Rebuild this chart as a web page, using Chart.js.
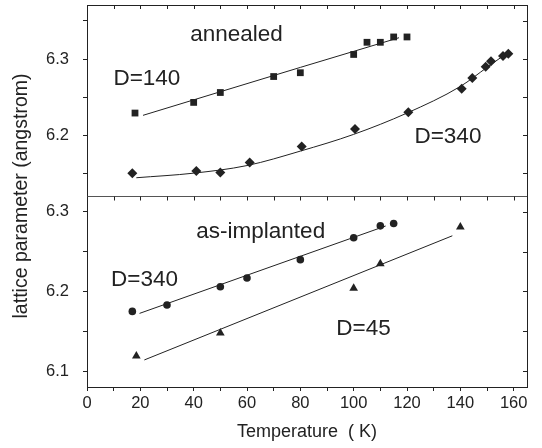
<!DOCTYPE html>
<html><head><meta charset="utf-8">
<script src="https://cdn.jsdelivr.net/npm/chart.js@4/dist/chart.umd.min.js"></script>
<style>html,body{margin:0;padding:0;background:#fff}canvas{display:block}</style>
</head><body>
<canvas id="c" width="542" height="448"></canvas>
<script>
// ---- data ----
const annealedD140Temp   = [18, 40, 50, 70, 80, 100, 105, 110, 115, 120];
const annealedD140Param  = [6.229, 6.243, 6.256, 6.277, 6.282, 6.306, 6.322, 6.322, 6.329, 6.329];
const annealedD140FitT   = [21, 50, 80, 117];
const annealedD140FitP   = [6.226, 6.257, 6.289, 6.328];

const annealedD340Temp   = [17, 41, 50, 61, 80.5, 100.5, 120.5, 140.5, 144.5, 149.5, 151.5, 156, 158];
const annealedD340Param  = [6.150, 6.153, 6.151, 6.164, 6.185, 6.208, 6.230, 6.261, 6.275, 6.290, 6.297, 6.304, 6.307];
const annealedD340FitT   = [18.5, 40, 60, 80, 100, 120, 140, 150, 158];
const annealedD340FitP   = [6.144, 6.150, 6.160, 6.179, 6.201, 6.229, 6.264, 6.289, 6.309];

const implantD340Temp    = [17, 30, 50, 60, 80, 100, 110, 115];
const implantD340Param   = [6.175, 6.183, 6.206, 6.217, 6.240, 6.2675, 6.2825, 6.2855];
const implantD340FitT    = [19.7, 112];
const implantD340FitP    = [6.1725, 6.2823];

const implantD45Temp     = [18.5, 50, 100, 110, 140];
const implantD45Param    = [6.119, 6.148, 6.204, 6.235, 6.281];
const implantD45FitT     = [21.5, 137];
const implantD45FitP     = [6.114, 6.270];

const xTickLabels = ['0', '20', '40', '60', '80', '100', '120', '140', '160'];
const yTickLabels = ['6.1', '6.2', '6.3'];

// ---- styling ----
const FONT = '"Liberation Sans", Arial, Helvetica, sans-serif';
const INK = '#222222';
const xy = (xs, ys) => xs.map((x, i) => ({x: x, y: ys[i]}));

function markers(data, style, r, axis) {
  return {data: data, yAxisID: axis, pointStyle: style, pointRadius: r, pointHoverRadius: r,
    backgroundColor: INK, borderColor: INK, borderWidth: 0, showLine: false};
}
function fit(data, axis, tension) {
  return {data: data, yAxisID: axis, showLine: true, pointRadius: 0, pointHoverRadius: 0,
    borderColor: INK, borderWidth: 1, tension: tension || 0,
    cubicInterpolationMode: tension ? 'monotone' : 'default', fill: false};
}

const annotations = [
  {text: 'annealed',     x: 38.7,  y: 6.3236, axis: 'yTop'},
  {text: 'D=140',        x: 9.9,   y: 6.266,  axis: 'yTop'},
  {text: 'D=340',        x: 122.8, y: 6.1895, axis: 'yTop'},
  {text: 'as-implanted', x: 41,    y: 6.2675, axis: 'yBottom'},
  {text: 'D=340',        x: 9.0,   y: 6.2071, axis: 'yBottom'},
  {text: 'D=45',         x: 93.5,  y: 6.1455, axis: 'yBottom'}
];

const framePlugin = {
  id: 'framePlugin',
  afterDatasetsDraw(chart) {
    const ctx = chart.ctx, a = chart.chartArea;
    const x = chart.scales.x, yt = chart.scales.yTop, yb = chart.scales.yBottom;
    ctx.save();
    ctx.strokeStyle = INK; ctx.lineWidth = 1;
    ctx.strokeRect(Math.round(a.left) + 0.5, Math.round(a.top) + 0.5,
                   Math.round(a.right - a.left), Math.round(a.bottom - a.top));
    const mid = Math.round(yt.bottom) + 0.5;
    ctx.strokeStyle = '#555';
    ctx.beginPath(); ctx.moveTo(a.left, mid); ctx.lineTo(a.right, mid); ctx.stroke();
    ctx.strokeStyle = INK;
    ctx.beginPath();
    const tl = 4;
    x.ticks.forEach(t => {
      const px = Math.round(x.getPixelForValue(t.value)) + 0.5;
      ctx.moveTo(px, a.top); ctx.lineTo(px, a.top + tl);
      ctx.moveTo(px, mid); ctx.lineTo(px, mid + tl);
    });
    [yt, yb].forEach(s => s.ticks.forEach(t => {
      const py = Math.round(s.getPixelForValue(t.value)) + 0.5;
      ctx.moveTo(a.right, py); ctx.lineTo(a.right - tl, py);
    }));
    ctx.stroke();
    ctx.restore();
  },
  afterDraw(chart) {
    const ctx = chart.ctx, a = chart.chartArea, x = chart.scales.x;
    ctx.save();
    ctx.fillStyle = INK;
    ctx.font = '22.5px ' + FONT;
    ctx.textAlign = 'left'; ctx.textBaseline = 'alphabetic';
    annotations.forEach(n => {
      ctx.fillText(n.text, x.getPixelForValue(n.x), chart.scales[n.axis].getPixelForValue(n.y));
    });
    ctx.font = '19.5px ' + FONT;
    ctx.translate(21.5, (a.top + a.bottom) / 2);
    ctx.rotate(-Math.PI / 2);
    ctx.textAlign = 'center'; ctx.textBaseline = 'middle';
    ctx.fillText('lattice parameter (angstrom)', 0, 0);
    ctx.restore();
  }
};

function yLabel(v) {
  const r = Math.round(v * 10);
  const s = (r / 10).toFixed(1);
  return (Math.abs(v * 10 - r) < 1e-6 && yTickLabels.includes(s)) ? s : '';
}
function xLabel(v) {
  const s = String(Math.round(v));
  return (Math.abs(v % 20) < 1e-6 && xTickLabels.includes(s)) ? s : '';
}

const yCommon = {
  type: 'linear', position: 'left', stack: 'panels', stackWeight: 1,
  ticks: {stepSize: 0.05, includeBounds: false, autoSkip: false, color: INK,
          font: {family: FONT, size: 16.5}, padding: 14, callback: yLabel},
  grid: {drawOnChartArea: false, drawTicks: true, tickLength: 4, color: INK, tickColor: INK},
  border: {display: false},
  afterFit(s) { s.width = 87; s.paddingTop = 0; s.paddingBottom = 0; }
};

new Chart(document.getElementById('c'), {
  type: 'scatter',
  data: {
    datasets: [
      markers(xy(annealedD140Temp, annealedD140Param), 'rect', 4.8, 'yTop'),
      fit(xy(annealedD140FitT, annealedD140FitP), 'yTop'),
      markers(xy(annealedD340Temp, annealedD340Param), 'rectRot', 5, 'yTop'),
      fit(xy(annealedD340FitT, annealedD340FitP), 'yTop', 0.4),
      markers(xy(implantD340Temp, implantD340Param), 'circle', 3.8, 'yBottom'),
      fit(xy(implantD340FitT, implantD340FitP), 'yBottom'),
      markers(xy(implantD45Temp, implantD45Param), 'triangle', 5, 'yBottom'),
      fit(xy(implantD45FitT, implantD45FitP), 'yBottom')
    ]
  },
  options: {
    responsive: false, animation: false, devicePixelRatio: 1,
    layout: {padding: {top: 2, right: 15, bottom: 0, left: 0}},
    plugins: {legend: {display: false}, tooltip: {enabled: false}},
    events: [],
    scales: {
      x: {
        type: 'linear', position: 'bottom', min: 0, max: 165,
        ticks: {stepSize: 10, includeBounds: false, autoSkip: false, maxRotation: 0, color: INK,
                font: {family: FONT, size: 16.5}, padding: 3, callback: xLabel},
        grid: {drawOnChartArea: false, drawTicks: true, tickLength: 4, color: INK, tickColor: INK},
        border: {display: false},
        title: {display: true, text: 'Temperature  ( K)', color: INK,
                font: {family: FONT, size: 18}, padding: {top: 0, bottom: 5}},
        afterFit(s) { s.height = 61; s.paddingLeft = 0; s.paddingRight = 0; }
      },
      yTop: Object.assign({}, yCommon, {min: 6.12, max: 6.371, weight: 2}),
      yBottom: Object.assign({}, yCommon, {min: 6.08, max: 6.32, weight: 1})
    }
  },
  plugins: [framePlugin]
});
</script>
</body></html>
